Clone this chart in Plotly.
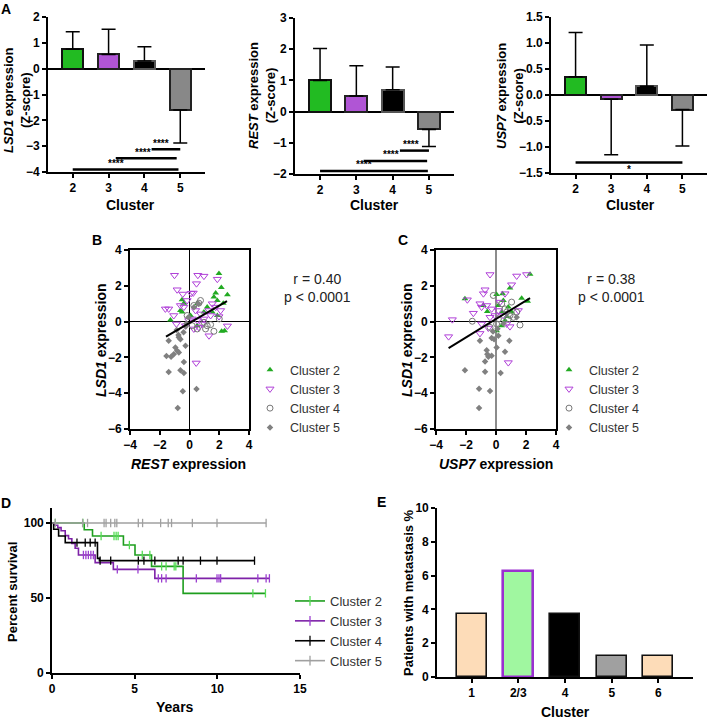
import plotly.graph_objects as go

W, H = 709, 720
FONT = "Arial, Liberation Sans, sans-serif"

# ---------------- data ----------------
# panel A: mean Z-score per cluster with one-sided SD
clusters = ["2", "3", "4", "5"]
lsd1_mean = [0.75, 0.55, 0.30, -1.60]
lsd1_sd = [0.68, 0.98, 0.55, 1.28]
rest_mean = [1.00, 0.50, 0.70, -0.57]
rest_sd = [1.02, 0.97, 0.73, 0.55]
usp7_mean = [0.35, -0.08, 0.17, -0.28]
usp7_sd = [0.85, 1.07, 0.79, 0.70]

# significance brackets: (start, end, level, label, label_at)
lsd1_sig = [(2.2, 3.0, -3.12, "****", 2.45), (1.2, 2.9, -3.47, "****", 1.95), (0.0, 2.95, -3.9, "****", 1.2)]
rest_sig = [(2.2, 3.0, -1.25, "****", 2.5), (1.2, 2.95, -1.58, "****", 1.95), (0.0, 2.97, -1.9, "****", 1.2)]
usp7_sig = [(0.0, 3.0, -1.3, "*", 1.5)]

# panel B: REST vs LSD1 expression
b_c2_x = [1.98, 2.14, 2.55, 1.76, 1.64, 2.27, 1.87, -0.50, -0.38, -0.61, -0.50, -1.28, 0.52, 1.19, 0.97, 2.16, 2.36, 1.53, 1.87, 0.52, 0.07]
b_c2_y = [2.69, 1.90, 1.50, 1.60, 1.37, 1.03, 1.18, 1.22, 1.03, 0.62, 0.53, 0.09, 1.00, 0.81, 0.53, -0.54, -0.51, 0.53, 0.34, -0.23, 0.34]
b_c3_x = [-1.01, 0.56, 0.97, 1.87, 0.47, -0.83, -0.45, 0.11, 0.25, -1.62, -1.40, -1.06, -0.38, 0.41, 0.74, -0.88, 0.29, 0.63, 1.31,
          1.98, 1.76, 2.09, -0.05, 1.53, 2.55, 0.45, -0.16, 0.18, 0.97, 0.52, -0.27, 0.86, 1.31, 1.42, -0.61]
b_c3_y = [2.59, 2.59, 2.54, 2.37, 2.12, 1.78, 1.54, 1.58, 1.60, 0.71, 0.71, 0.34, 0.81, 0.62, 0.43, -0.13, -0.41, -0.32, -0.79,
          0.28, 0.81, 0.62, 0.06, 1.00, -0.24, -2.31, 1.18, 0.15, 0.15, 0.06, -0.23, -0.13, 0.62, 0.34, 0.90]
b_c4_x = [0.63, 0.29, 0.18, 0.52, 1.19, 1.42, 1.64, 2.00, 0.97, -0.16, 0.74, 1.08]
b_c4_y = [1.03, 0.90, -0.23, -0.41, -0.23, -0.17, -0.54, 0.15, -0.04, 0.34, 1.18, -0.41]
b_c5_x = [-1.40, -0.72, -0.61, -0.95, -0.83, -0.72, -1.06, -1.55, -1.24, -0.27, -0.38, -1.40, -0.61, -0.38, -0.45, 0.47, -0.79,
          -0.86, -0.74, -0.40, -0.25, -0.07, 0.30, 0.60, -0.20]
b_c5_y = [-1.07, -0.88, -0.98, -1.45, -1.63, -1.73, -1.82, -1.92, -1.97, -1.35, -2.25, -2.82, -2.72, -2.87, -3.89, -3.76, -4.83,
          -0.47, -0.75, -0.60, -0.28, 0.24, 0.80, 1.00, -0.10]
b_fit_x = [-1.58, 2.52]
b_fit_y = [-0.84, 1.14]
b_stats = "r = 0.40<br>p < 0.0001"

# panel C: USP7 vs LSD1 expression
c_c2_x = [2.27, -2.07, 0.04, 0.44, 0.93, 1.71, 2.11, -0.58, 0.38, 0.49, 0.04, 0.38, 0.71, 0.82, 0.16, -0.84, 1.04, 0.60]
c_c2_y = [2.65, 1.28, 1.52, 1.56, 1.88, 1.31, 1.14, 0.56, 0.53, 1.18, -0.51, -0.23, 0.28, 0.81, 0.90, 0.90, 0.53, 0.06]
c_c3_x = [-0.40, 1.38, 2.04, -0.73, -0.84, -1.91, -1.51, -2.91, -3.16, -0.96, -0.96, -1.07, 0.82, 0.93, 0.60, 1.04, 1.49,
          -0.07, -0.40, 0.27, -0.62, -0.29, 0.16, 0.49, -0.51, 0.71, -1.07]
c_c3_y = [2.63, 2.55, 2.63, 1.78, 1.56, 1.22, 0.47, 0.11, -0.84, 0.81, -0.13, -0.66, -2.29, -0.28, 1.56, 2.06, 0.62,
          0.34, 0.24, 1.09, 0.90, 0.71, 0.62, 0.34, -0.36, -0.13, 1.00]
c_c4_x = [-0.18, 1.60, -1.58, 0.38, 0.60, 0.71, 0.93, 0.16, 1.04, 1.16, 1.38, 0.04, -0.40, 0.82]
c_c4_y = [1.46, -0.19, 0.02, 0.99, 0.71, 0.53, 0.34, 0.15, 1.09, 0.24, 0.53, -0.13, -0.32, 0.15]
c_c5_x = [-1.07, -0.29, -0.13, 0.16, -0.62, -0.58, -0.51, -0.29, -0.73, 0.04, 0.89, 0.60, -2.07, -0.73, 0.31, -1.13, -0.40,
          -1.13, 1.38, -0.20, 0.10, 0.50]
c_c5_y = [-1.07, -0.92, -0.98, -0.79, -1.60, -1.82, -1.97, -1.91, -2.23, -1.45, -1.07, -1.69, -2.72, -2.80, -2.87, -3.75, -3.88,
          -4.82, 0.24, -0.55, -0.40, -0.10]
c_fit_x = [-3.16, 2.27]
c_fit_y = [-1.48, 1.31]
c_stats = "r = 0.38<br>p < 0.0001"

# panel D: Kaplan-Meier (step times / percent survival / censored times)
km_c2_t = [0, 1.95, 2.45, 4.32, 5.02, 6.02, 7.93, 12.91]
km_c2_s = [100, 95.5, 91.3, 85.3, 78.7, 71.1, 53.1, 53.1]
km_c2_cens = [0.2, 1.87, 2.97, 3.75, 3.88, 4.0, 4.68, 5.46, 5.92, 6.63, 6.9, 7.39, 7.49, 12.15, 12.91]
km_c3_t = [0, 0.15, 0.35, 0.55, 0.8, 1.0, 1.2, 1.4, 1.6, 2.61, 3.71, 6.22, 13.15]
km_c3_s = [100, 98.5, 96.9, 94.8, 91.6, 89.5, 86.4, 83.2, 78.7, 73.6, 69.1, 63.1, 63.1]
km_c3_cens = [1.9, 2.05, 2.2, 2.35, 2.5, 3.95, 5.2, 6.43, 6.63, 6.9, 8.73, 9.98, 10.1, 10.2, 12.45, 12.95, 13.15]
km_c4_t = [0, 0.1, 0.4, 0.8, 2.75, 2.87, 12.25]
km_c4_s = [100, 95.8, 91.3, 86.9, 76.4, 74.9, 74.9]
km_c4_cens = [1.51, 2.01, 2.31, 2.61, 2.91, 3.55, 5.22, 5.56, 6.22, 7.63, 7.93, 8.98, 9.98, 12.25]
km_c5_t = [0, 12.95]
km_c5_s = [100, 100]
km_c5_cens = [0.2, 1.85, 2.15, 3.15, 3.27, 3.55, 3.8, 3.92, 5.22, 5.48, 6.57, 7.03, 7.23, 8.49, 9.98, 12.95]

# panel E: patients with metastasis
e_clusters = ["1", "2/3", "4", "5", "6"]
e_pct = [3.75, 6.25, 3.75, 1.25, 1.25]


# ---------------- helpers ----------------
def px(x):
    return x / W


def py(y):
    return 1 - y / H


def surv_at(times, surv, t):
    s = surv[0]
    for ti, si in zip(times, surv):
        if ti <= t:
            s = si
    return s


fig = go.Figure()

axis_base = dict(showline=True, linecolor="black", linewidth=1.6, ticks="outside", tickcolor="black",
                 tickwidth=1.6, ticklen=4, showgrid=False, zeroline=False, automargin=False,
                 tickfont=dict(family=FONT, size=12, color="black", weight="bold"))

# ---------------- panel A ----------------
bar_fill = ["#22BB22", "#B055D5", "#000000", "#888888"]
bar_edge = ["#111111", "#222222", "#555555", "#222222"]
panelA = [(lsd1_mean, lsd1_sd, lsd1_sig, ""), (rest_mean, rest_sd, rest_sig, "2"), (usp7_mean, usp7_sd, usp7_sig, "3")]
for mean, sd, sig, k in panelA:
    up = [s if m >= 0 else 0 for m, s in zip(mean, sd)]
    down = [0 if m >= 0 else s for m, s in zip(mean, sd)]
    fig.add_trace(go.Bar(x=list(range(len(clusters))), y=mean, width=0.6,
                         marker=dict(color=bar_fill, line=dict(color=bar_edge, width=2)),
                         error_y=dict(type="data", symmetric=False, array=up, arrayminus=down,
                                      color="black", thickness=1.5, width=7),
                         xaxis="x" + k, yaxis="y" + k, showlegend=False))
    for x0, x1, lvl, lab, lx in sig:
        fig.add_shape(type="line", x0=x0, x1=x1, y0=lvl, y1=lvl, xref="x" + k, yref="y" + k,
                      line=dict(color="black", width=2.5))
        fig.add_annotation(x=lx, y=lvl, xref="x" + k, yref="y" + k, text=lab, showarrow=False,
                           yshift=6 if lab != "*" else -7,
                           font=dict(family=FONT, size=10, color="black", weight="bold"))

a_x = dict(axis_base, range=[-0.69, 3.69], tickvals=[0, 1, 2, 3], ticktext=clusters)
a_zero = dict(zeroline=True, zerolinecolor="black", zerolinewidth=1.6)
fig.update_layout(
    xaxis=dict(a_x, domain=[px(48), px(205)], anchor="y"),
    yaxis=dict(axis_base, **a_zero, domain=[py(172), py(17)], range=[-4, 2], dtick=1, anchor="x"),
    xaxis2=dict(a_x, domain=[px(295), px(454)], anchor="y2"),
    yaxis2=dict(axis_base, **a_zero, domain=[py(174), py(18)], range=[-2, 3], dtick=1, anchor="x2"),
    xaxis3=dict(a_x, domain=[px(551), px(707)], anchor="y3"),
    yaxis3=dict(axis_base, **a_zero, domain=[py(173), py(17)], range=[-1.5, 1.5], dtick=0.5,
                tickformat=".1f", anchor="x3"),
)

# ---------------- panels B and C ----------------
sc_style = [
    ("Cluster 2", dict(symbol="triangle-up", size=6, color="#22AA22")),
    ("Cluster 3", dict(symbol="triangle-down-open", size=7, color="#B040D8", line=dict(width=1))),
    ("Cluster 4", dict(symbol="circle-open", size=6, color="#777777", line=dict(width=1))),
    ("Cluster 5", dict(symbol="diamond", size=5, color="#808080")),
]
panelB = [(b_c2_x, b_c2_y), (b_c3_x, b_c3_y), (b_c4_x, b_c4_y), (b_c5_x, b_c5_y)]
panelC = [(c_c2_x, c_c2_y), (c_c3_x, c_c3_y), (c_c4_x, c_c4_y), (c_c5_x, c_c5_y)]
for pts, k, leg in [(panelB, "4", "legend"), (panelC, "5", "legend2")]:
    for (name, mk), (xs, ys) in zip(sc_style, pts):
        fig.add_trace(go.Scatter(x=xs, y=ys, mode="markers", name=name, marker=mk,
                                 xaxis="x" + k, yaxis="y" + k, legend=leg))
fig.add_trace(go.Scatter(x=b_fit_x, y=b_fit_y, mode="lines", line=dict(color="black", width=2),
                         xaxis="x4", yaxis="y4", showlegend=False))
fig.add_trace(go.Scatter(x=c_fit_x, y=c_fit_y, mode="lines", line=dict(color="black", width=2),
                         xaxis="x5", yaxis="y5", showlegend=False))

sc_x = dict(axis_base, range=[-4, 4], dtick=2, mirror=True, zeroline=True, zerolinecolor="black", zerolinewidth=1)
sc_y = dict(axis_base, range=[-6, 4], dtick=2, mirror=True, zeroline=True, zerolinecolor="black", zerolinewidth=1)
fig.update_layout(
    xaxis4=dict(sc_x, domain=[px(130), px(249)], anchor="y4"),
    yaxis4=dict(sc_y, domain=[py(429), py(250)], anchor="x4"),
    xaxis5=dict(sc_x, domain=[px(436), px(556)], anchor="y5", zerolinecolor="#8C8C8C", zerolinewidth=2),
    yaxis5=dict(sc_y, domain=[py(429), py(250)], anchor="x5"),
)

# ---------------- panel D ----------------
km = [
    ("Cluster 2", km_c2_t, km_c2_s, km_c2_cens, "#1E9E1E", "#55DD55"),
    ("Cluster 3", km_c3_t, km_c3_s, km_c3_cens, "#7E22A8", "#9B3FD0"),
    ("Cluster 4", km_c4_t, km_c4_s, km_c4_cens, "#000000", "#000000"),
    ("Cluster 5", km_c5_t, km_c5_s, km_c5_cens, "#A0A0A0", "#A0A0A0"),
]
for name, t, s, cens, col, tick_col in km:
    fig.add_trace(go.Scatter(x=t, y=s, mode="lines", line=dict(color=col, width=1.6, shape="hv"),
                             xaxis="x6", yaxis="y6", showlegend=False))
    fig.add_trace(go.Scatter(x=cens, y=[surv_at(t, s, c) for c in cens], mode="markers",
                             marker=dict(symbol="line-ns", size=6, line=dict(width=1.3, color=tick_col)),
                             xaxis="x6", yaxis="y6", showlegend=False))
    fig.add_trace(go.Scatter(x=[None], y=[None], mode="lines+markers", name=name,
                             line=dict(color=col, width=1.6),
                             marker=dict(symbol="line-ns", size=7, line=dict(width=1.3, color=tick_col)),
                             xaxis="x6", yaxis="y6", legend="legend3"))

fig.update_layout(
    xaxis6=dict(axis_base, domain=[px(52), px(300)], range=[0, 15], tickvals=[0, 5, 10, 15], anchor="y6"),
    yaxis6=dict(axis_base, domain=[py(673), py(508)], range=[0, 110], tickvals=[0, 50, 100], anchor="x6"),
)

# ---------------- panel E ----------------
fig.add_trace(go.Bar(x=list(range(len(e_clusters))), y=e_pct, width=0.64,
                     marker=dict(color=["#FDDCB8", "#A0F7A0", "#000000", "#A0A0A0", "#FDDCB8"],
                                 line=dict(color=["#111111", "#9B30D0", "#111111", "#111111", "#111111"],
                                           width=[1.6, 2.6, 1.6, 1.6, 1.6])),
                     xaxis="x7", yaxis="y7", showlegend=False))
fig.update_layout(
    xaxis7=dict(axis_base, domain=[px(437), px(693)], range=[-0.74, 4.74], tickvals=list(range(5)),
                ticktext=e_clusters, anchor="y7"),
    yaxis7=dict(axis_base, domain=[py(677), py(508)], range=[0, 10], dtick=2, anchor="x7"),
)

# ---------------- text ----------------
def label(x, y, text, size=13, angle=0, bold=True, color="black", anchor="center"):
    fig.add_annotation(x=px(x), y=py(y), xref="paper", yref="paper", text=text, showarrow=False,
                       textangle=angle, xanchor=anchor, yanchor="middle",
                       font=dict(family=FONT, size=size, color=color, weight="bold" if bold else "normal"))


for t, x, y in [("A", 6, 9), ("B", 97, 240), ("C", 403, 240), ("D", 6, 503), ("E", 381, 502)]:
    label(x, y, t, size=14)

label(17, 100, "<i>LSD1</i> expression<br>(Z-score)", angle=-90)
label(262, 96, "<i>REST</i> expression<br>(Z-score)", angle=-90)
label(510, 96, "<i>USP7</i> expression<br>(Z-score)", angle=-90)
for x in [130, 375, 630]:
    label(x, 205, "Cluster", size=14)

label(101, 340, "<i>LSD1</i> expression", size=14, angle=-90)
label(407, 340, "<i>LSD1</i> expression", size=14, angle=-90)
label(189, 464, "<i>REST</i> expression", size=14)
label(496, 464, "<i>USP7</i> expression", size=14)
label(282, 288, b_stats, size=14, bold=False, color="#222222", anchor="left")
label(576, 288, c_stats, size=14, bold=False, color="#222222", anchor="left")

label(12, 592, "Percent survival", size=13, angle=-90)
label(175, 707, "Years", size=14)
label(408, 593, "Patients with metastasis %", size=13, angle=-90)
label(565, 712, "Cluster", size=14)

leg_base = dict(xanchor="left", yanchor="top", bgcolor="rgba(0,0,0,0)", itemwidth=30,
                font=dict(family=FONT, size=12.5, color="#333333"))
fig.update_layout(
    legend=dict(leg_base, x=px(250), y=py(355)),
    legend2=dict(leg_base, x=px(549), y=py(355)),
    legend3=dict(leg_base, x=px(290), y=py(586), font=dict(family=FONT, size=13, color="#333333")),
    width=W, height=H, margin=dict(l=0, r=0, t=0, b=0),
    paper_bgcolor="white", plot_bgcolor="white", bargap=0,
)

fig.write_html("out.html", config={"displayModeBar": False},
               post_script="document.body.style.margin='0px';")
